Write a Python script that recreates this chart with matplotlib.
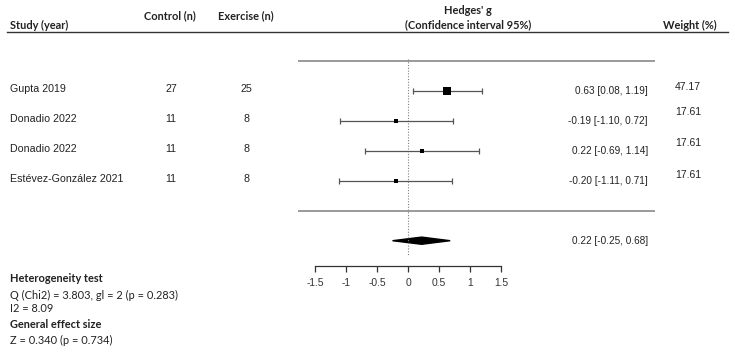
import matplotlib
matplotlib.use("Agg")
import matplotlib.pyplot as plt
import matplotlib.transforms as mtransforms
from matplotlib.patches import Polygon

# ---------------- data ----------------
studies = ["Gupta 2019", "Donadio 2022", "Donadio 2022", "Estévez-González 2021"]
control_n = [27, 11, 11, 11]
exercise_n = [25, 8, 8, 8]
hedges_g = [0.63, -0.19, 0.22, -0.20]
ci_low = [0.08, -1.10, -0.69, -1.11]
ci_high = [1.19, 0.72, 1.14, 0.71]
weights = [47.17, 17.61, 17.61, 17.61]
pooled_g = 0.22
pooled_low = -0.25
pooled_high = 0.68
xticks = [-1.5, -1, -0.5, 0, 0.5, 1, 1.5]
xtick_labels = ["-1.5", "-1", "-0.5", "0", "0.5", "1", "1.5"]
stats_lines = [
    ("Heterogeneity test", True),
    ("Q (Chi2) = 3.803, gl = 2 (p = 0.283)", False),
    ("I2 = 8.09", False),
    ("General effect size", True),
    ("Z = 0.340 (p = 0.734)", False),
]

# ---------------- layout ----------------
W, H = 735, 353
fig = plt.figure(figsize=(W / 100, H / 100), dpi=100)

x0_px, unit_px = 408.0, 62.0          # pixel of g=0, pixels per unit
left_px, right_px = 298.0, 655.0
row0_px, row_step = 60.7, 30.0        # pixel of row 0, pixels per row

ax = fig.add_axes([left_px / W, 0, (right_px - left_px) / W, 1])
ax.set_xlim((left_px - x0_px) / unit_px, (right_px - x0_px) / unit_px)
ax.set_ylim((H - row0_px) / row_step, (0 - row0_px) / row_step)
ax.patch.set_visible(False)
for s in ["top", "left", "right"]:
    ax.spines[s].set_visible(False)
ax.set_yticks([])

rows = [i + 1 for i in range(len(studies))]
summary_row = len(studies) + 2
axis_row = (266 - row0_px) / row_step

gray = "#7f7f7f"
dark = "#333333"
arial = "Liberation Sans"
calibri = "Lato"

# separator lines
ax.axhline(0, color=gray, lw=1.1)
ax.axhline(len(studies) + 1, color=gray, lw=1.1)
# zero reference line
ax.plot([0, 0], [-0.05, (255 - row0_px) / row_step], color=gray, lw=0.8, ls=(0, (1, 1.5)))

# study CIs and points
for r, g, lo, hi, w in zip(rows, hedges_g, ci_low, ci_high, weights):
    ax.errorbar(g, r, xerr=[[g - lo], [hi - g]], fmt="none", ecolor="#555555",
                elinewidth=0.9, capsize=2.2, capthick=0.9)
    ax.plot(g, r, marker="s", color="black", ms=5.2 * (w / max(weights)) ** 0.75, mew=0)

# pooled diamond
dh = 0.12
ax.add_patch(Polygon([[pooled_low, summary_row], [pooled_g, summary_row - dh],
                      [pooled_high, summary_row], [pooled_g, summary_row + dh]],
                     closed=True, color="black"))

# bottom axis
ax.spines["bottom"].set_position(("data", axis_row))
ax.spines["bottom"].set_bounds(min(xticks), max(xticks))
ax.spines["bottom"].set_color(dark)
ax.spines["bottom"].set_linewidth(0.9)
ax.set_xticks(xticks)
ax.set_xticklabels(xtick_labels, fontfamily=arial, fontsize=7.4, color=dark)
ax.tick_params(axis="x", direction="out", length=4, width=0.9, color=dark, pad=5)

# estimate text
est_x = (648 - x0_px) / unit_px
for r, g, lo, hi in zip(rows, hedges_g, ci_low, ci_high):
    ax.text(est_x, r, f"{g:.2f} [{lo:.2f}, {hi:.2f}]", ha="right", va="center",
            fontfamily=arial, fontsize=7.2, color="#222222")
ax.text(est_x, summary_row, f"{pooled_g:.2f} [{pooled_low:.2f}, {pooled_high:.2f}]",
        ha="right", va="center", fontfamily=arial, fontsize=7.2, color="#222222")

# left columns (x in figure fraction, y in data rows)
tr = mtransforms.blended_transform_factory(fig.transFigure, ax.transData)
for r, name, c, e in zip(rows, studies, control_n, exercise_n):
    y = r - 0.07
    fig.text(10 / W, y, name, transform=tr, ha="left", va="center",
             fontfamily=arial, fontsize=7.7, color="#222222")
    fig.text(171 / W, y, str(c), transform=tr, ha="center", va="center",
             fontfamily=arial, fontsize=7.7, color="#222222")
    fig.text(246 / W, y, str(e), transform=tr, ha="center", va="center",
             fontfamily=arial, fontsize=7.7, color="#222222")

# weights
weight_dy = [-0.12, -0.3, -0.27, -0.2]
for r, w, dy in zip(rows, weights, weight_dy):
    fig.text(675 / W, r + dy, f"{w:.2f}", transform=tr, ha="left", va="center",
             fontfamily=arial, fontsize=7.5, color="#222222")

# headers (pixel positions)
def ftxt(xp, yp, s, **kw):
    fig.text(xp / W, 1 - yp / H, s, **kw)

hdr = dict(fontfamily=calibri, fontweight="bold", fontsize=7.9, color="#222222", va="center")
ftxt(10, 25, "Study (year)", ha="left", **hdr)
ftxt(170, 16, "Control (n)", ha="center", **hdr)
ftxt(246, 16, "Exercise (n)", ha="center", **hdr)
ftxt(468, 10, "Hedges' g", ha="center", **hdr)
ftxt(468, 25, "(Confidence interval 95%)", ha="center", **hdr)
ftxt(663, 25, "Weight (%)", ha="left", **hdr)
fig.add_artist(plt.Line2D([7 / W, 728 / W], [1 - 32 / H, 1 - 32 / H],
                          transform=fig.transFigure, color=dark, lw=1.0))

# bottom statistics
ys = [279, 295, 308, 325, 340]
for (s, bold), yp in zip(stats_lines, ys):
    ftxt(10, yp, s, ha="left", va="center", fontfamily=calibri,
         fontweight="bold" if bold else "normal", fontsize=7.9, color="#222222")

fig.savefig("out.png", dpi=100, facecolor="white")
